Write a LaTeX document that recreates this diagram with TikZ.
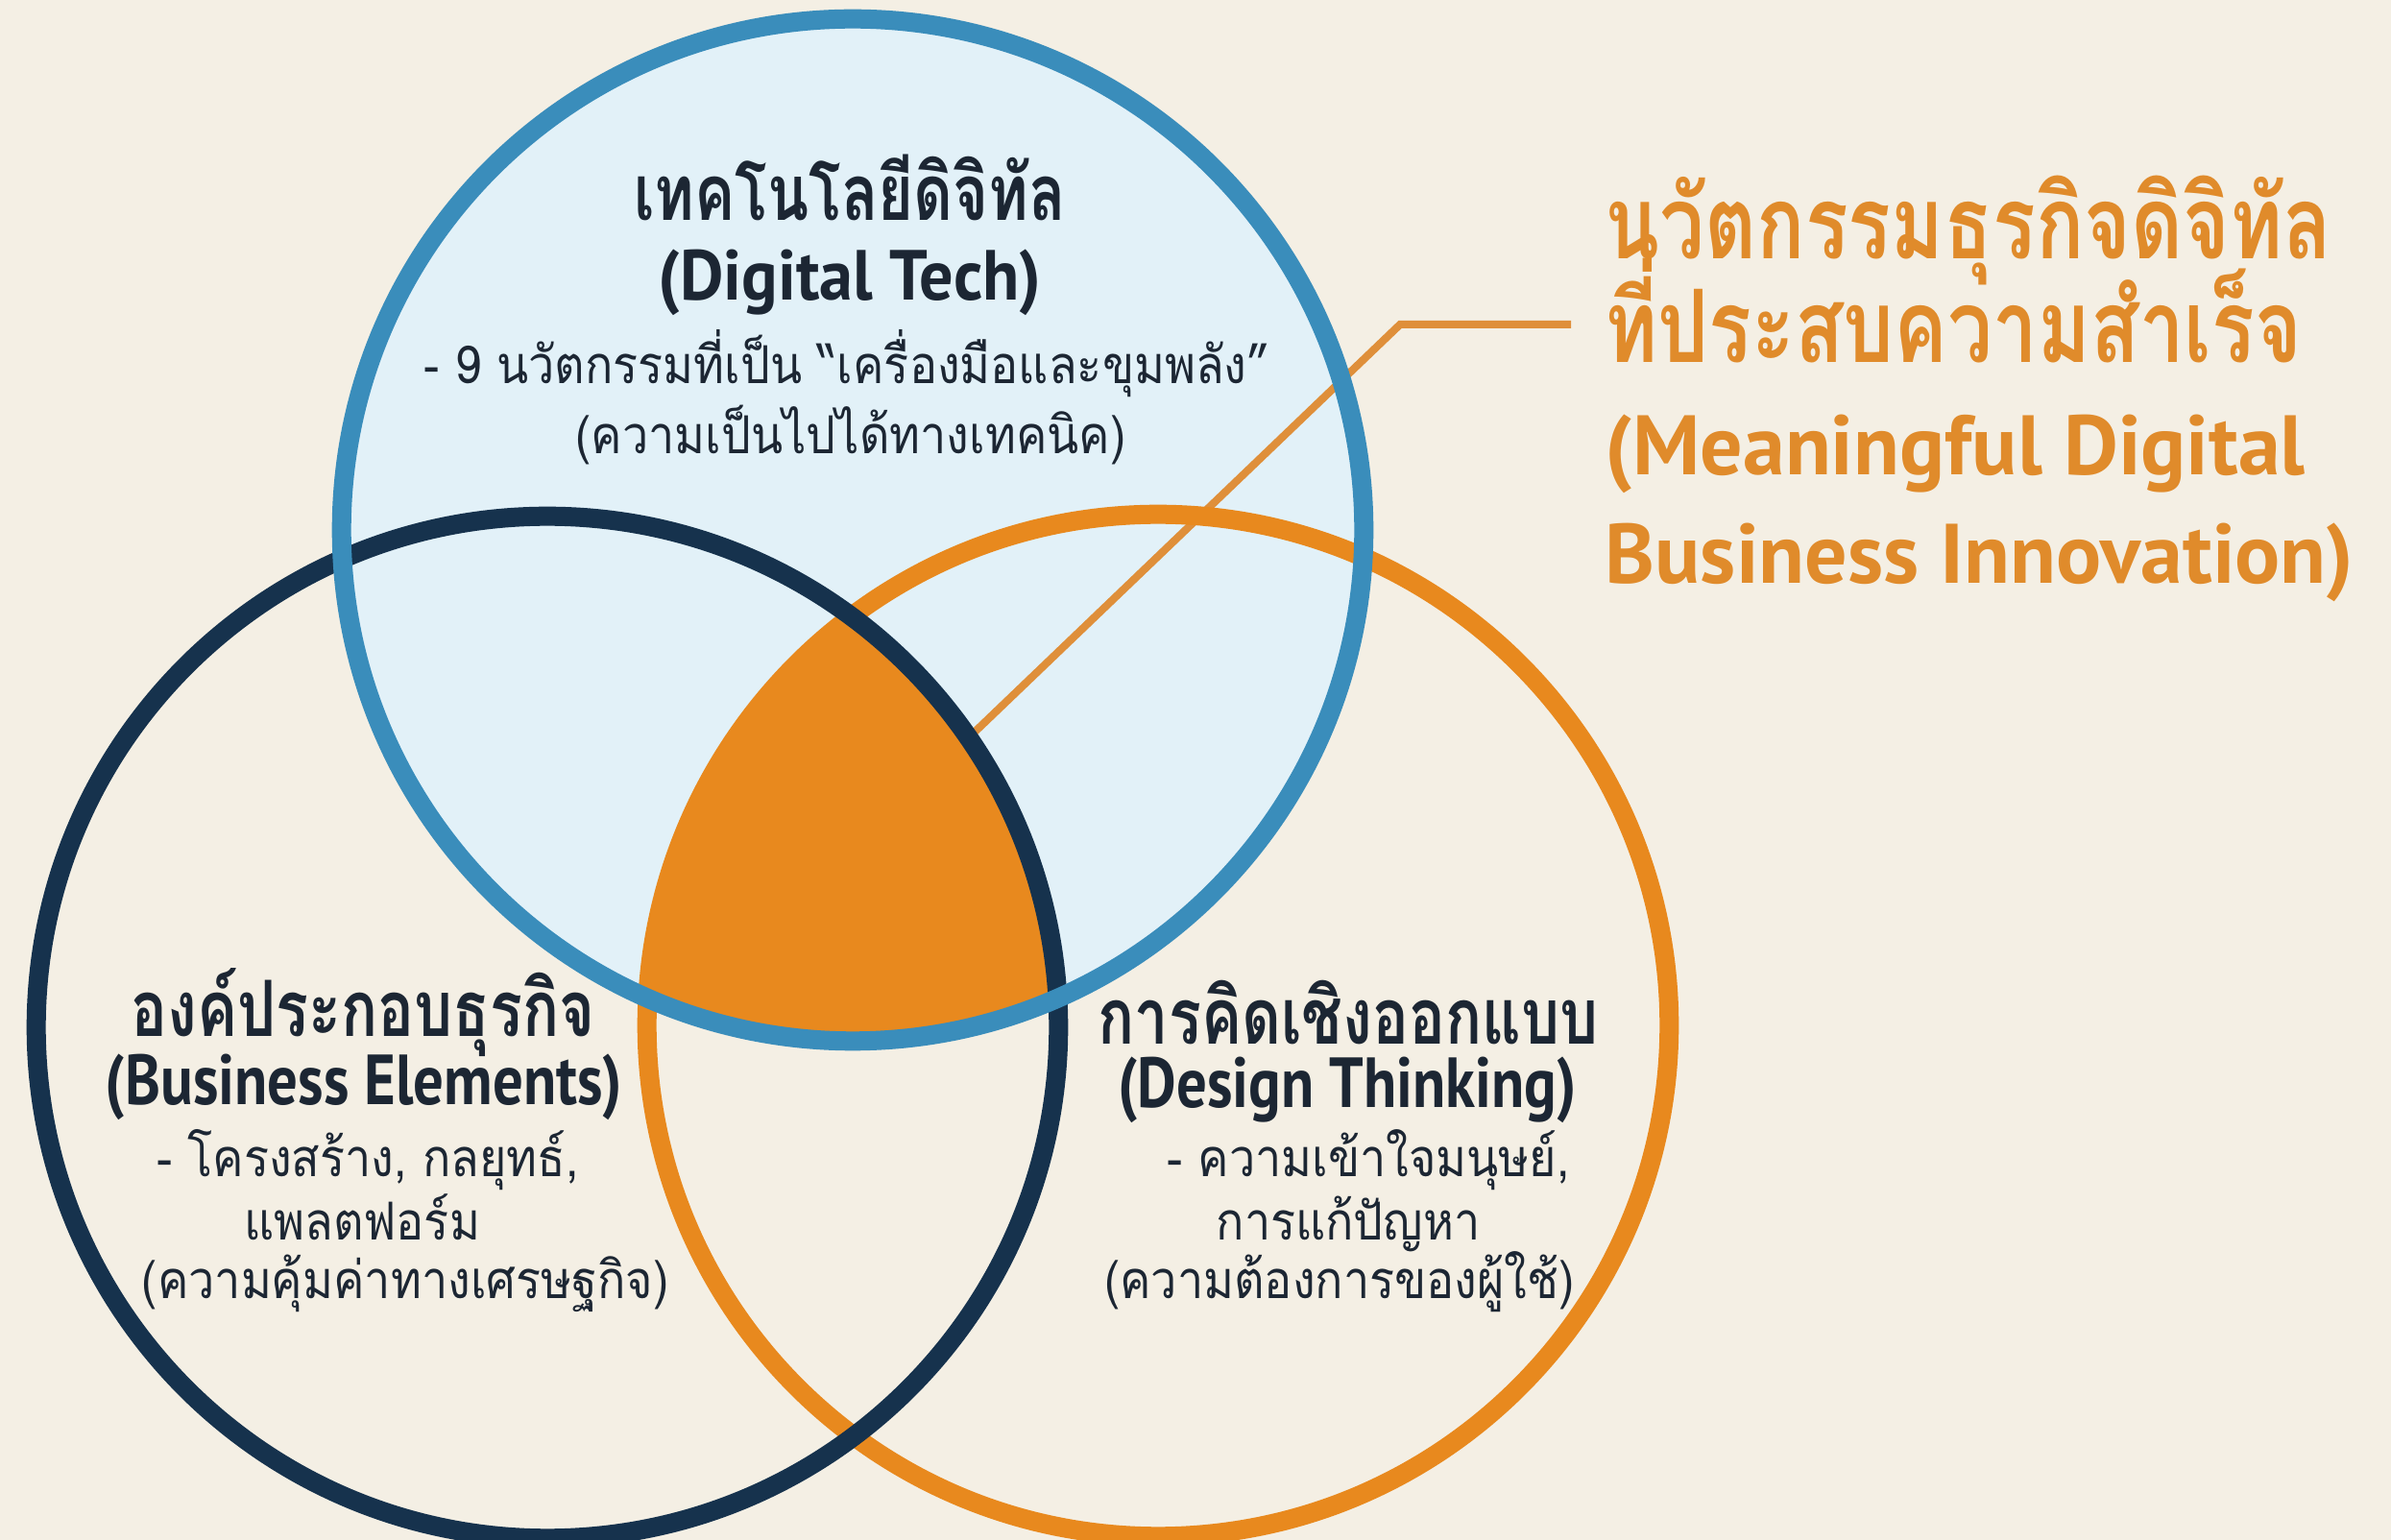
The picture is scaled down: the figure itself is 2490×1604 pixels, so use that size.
\documentclass[tikz,border=0pt]{standalone}
\usepackage{fontspec}
\setmainfont{PT Sans}
\newfontfamily\headfont[FakeStretch=0.85]{PT Sans}
\newfontfamily\headwide[FakeStretch=0.95]{PT Sans}
\newfontfamily\thai[Script=Thai,FakeStretch=0.89]{Loma}
\newfontfamily\thaihead[Script=Thai,FakeStretch=0.78]{Loma}
\newfontfamily\thaicall[Script=Thai,FakeStretch=0.79]{Loma}
\usetikzlibrary{positioning}

\definecolor{paper}{HTML}{F4EFE4}
\definecolor{techblue}{HTML}{3A8DBB}
\definecolor{techfill}{HTML}{E2F1F8}
\definecolor{navy}{HTML}{16324D}
\definecolor{amber}{HTML}{E8891E}
\definecolor{ink}{HTML}{1C2633}
\definecolor{callout}{HTML}{E08B2B}
\definecolor{leader}{HTML}{DF8F3A}

\begin{document}
\begin{tikzpicture}[x=0.01cm,y=-0.01cm,
  ring/.style={circle,minimum size=10.64cm,line width=0.2cm,inner sep=0pt},
  headth/.style={anchor=base,text=ink,font=\thaihead\bfseries\fontsize{23}{26}\selectfont},
  headen/.style={anchor=base,text=ink,font=\headfont\bfseries\fontsize{21}{24}\selectfont},
  body/.style={anchor=base,text=ink,font=\thai\fontsize{15.5}{18}\selectfont},
  callth/.style={anchor=base west,inner sep=0pt,text=callout,font=\thaicall\bfseries\fontsize{30}{33}\selectfont},
  callen/.style={anchor=base west,inner sep=0pt,text=callout,font=\bfseries\fontsize{25}{30}\selectfont}]
  \fill[paper] (0,0) rectangle (2490,1604);
  \useasboundingbox (0,0) rectangle (2490,1604);

  \coordinate (c-tech) at (888,552);
  \coordinate (c-biz) at (570,1070);
  \coordinate (c-design) at (1206,1068);

  % light fill of the tech circle and the common core
  \fill[techfill] (c-tech) circle[radius=5.32cm];
  \begin{scope}
    \clip (c-biz) circle[radius=5.32cm];
    \clip (c-design) circle[radius=5.32cm];
    \fill[amber] (c-tech) circle[radius=5.32cm];
  \end{scope}

  % leader from the core to the callout
  \coordinate (tip) at (1005,772);
  \coordinate (bend) at (1458,338);
  \coordinate (tail) at (1636,338);
  \draw[leader,line width=0.08cm] (tip) -- (bend) -- (tail);

  \node[ring,draw=amber] (design) at (c-design) {};
  \node[ring,draw=navy] (biz) at (c-biz) {};
  \node[ring,draw=techblue] (tech) at (c-tech) {};

  % digital tech
  \node[headth] (tech-th) at (885,230) {เทคโนโลยีดิจิทัล};
  \node[headen,font=\headwide\bfseries\fontsize{21}{24}\selectfont] (tech-en) at (885,313) {(Digital Tech)};
  \node[body] (tech-l1) at (882,400) {- 9 นวัตกรรมที่เป็น “เครื่องมือและขุมพลัง”};
  \node[body] (tech-l2) at (886,473) {(ความเป็นไปได้ทางเทคนิค)};

  % business elements
  \node[headth] (biz-th) at (378,1080) {องค์ประกอบธุรกิจ};
  \node[headen] (biz-en) at (379,1151) {(Business Elements)};
  \node[body] (biz-l1) at (383,1226) {- โครงสร้าง, กลยุทธ์,};
  \node[body] (biz-l2) at (377,1291) {แพลตฟอร์ม};
  \node[body] (biz-l3) at (422,1353) {(ความคุ้มค่าทางเศรษฐกิจ)};

  % design thinking
  \node[headth] (design-th) at (1404,1088) {การคิดเชิงออกแบบ};
  \node[headen] (design-en) at (1403,1154) {(Design Thinking)};
  \node[body] (design-l1) at (1425,1226) {- ความเข้าใจมนุษย์,};
  \node[body] (design-l2) at (1404,1291) {การแก้ปัญหา};
  \node[body] (design-l3) at (1395,1353) {(ความต้องการของผู้ใช้)};

  % callout
  \node[callth] (goal-1) at (1671,270) {นวัตกรรมธุรกิจดิจิทัล};
  \node[callth] (goal-2) at (1671,378) {ที่ประสบความสำเร็จ};
  \node[callen] (goal-3) at (1671,495) {(Meaningful Digital};
  \node[callen] (goal-4) at (1671,608) {Business Innovation)};
\end{tikzpicture}
\end{document}
